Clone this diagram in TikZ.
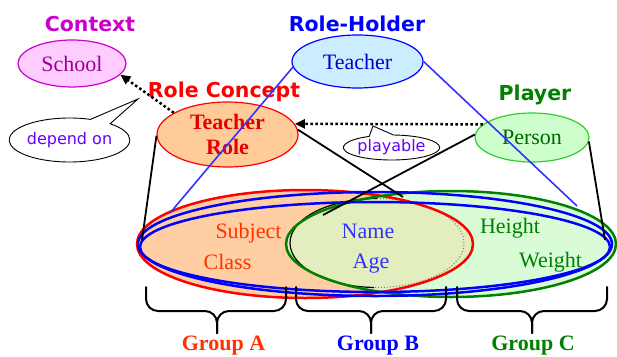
\documentclass[tikz,border=0pt]{standalone}
\usepackage{fontspec}
\setmainfont{Liberation Serif}
\newfontfamily\labfont{DejaVu Sans}
\usetikzlibrary{shapes.geometric,shapes.callouts,arrows.meta}
\definecolor{ctxc}{HTML}{CC00CC}
\definecolor{schoolfill}{HTML}{FFCCFF}
\definecolor{schooltext}{HTML}{990099}
\definecolor{rhc}{HTML}{0000FF}
\definecolor{teacherfill}{HTML}{CCECFF}
\definecolor{teachertext}{HTML}{0000CC}
\definecolor{rcc}{HTML}{FF0000}
\definecolor{trfill}{HTML}{FFCC99}
\definecolor{trtext}{HTML}{E60000}
\definecolor{plc}{HTML}{008000}
\definecolor{personfill}{HTML}{CCFFCC}
\definecolor{personborder}{HTML}{33CC33}
\definecolor{persontext}{HTML}{006600}
\definecolor{calloutc}{HTML}{6600FF}
\definecolor{grpa}{HTML}{FF3300}
\definecolor{grpb}{HTML}{3333FF}
\definecolor{grpc}{HTML}{008000}
\definecolor{bluel}{HTML}{3333FF}
\definecolor{orangefill}{HTML}{FFCFA3}
\definecolor{greenfill}{HTML}{D9FCD6}
\definecolor{mixfill}{HTML}{E2EEBE}
\newcommand\grpbrace[3]{%
  \draw[brc] (#1,-287) -- (#1,-299) arc[start angle=180,end angle=270,radius=12]
    -- ({#2-12},-311) arc[start angle=90,end angle=0,radius=12] -- (#2,-333);
  \draw[brc] (#3,-287) -- (#3,-299) arc[start angle=0,end angle=-90,radius=12]
    -- ({#2+12},-311) arc[start angle=90,end angle=180,radius=12] -- (#2,-333);
}
\begin{document}
\begin{tikzpicture}[x=1pt,y=1pt,
  font=\fontsize{22}{25}\selectfont,
  lab/.style={anchor=base,font=\labfont\bfseries\fontsize{20.5}{24}\selectfont},
  oval/.style={ellipse,inner sep=0,line width=1.2pt},
  txt/.style={anchor=base},
  grp/.style={anchor=base,font=\bfseries\fontsize{22}{25}\selectfont},
  bubble/.style={ellipse callout,draw=black,fill=white,inner sep=0,line width=0.9pt,
    text=calloutc,font=\labfont\fontsize{16}{19}\selectfont},
  dotarrow/.style={line width=2.5pt,dash pattern=on 2.5pt off 2.5pt,
    -{Triangle[length=10pt,width=9pt]}},
  blk/.style={line width=1.8pt,black},
  bln/.style={line width=1.6pt,bluel},
  brc/.style={line width=2pt,black,line cap=round}]
\useasboundingbox (0,0) rectangle (617,-356);

% big group ellipses: fills
\fill[orangefill] (305,-244) ellipse[x radius=168,y radius=54];
\fill[greenfill] (451,-244) ellipse[x radius=165,y radius=53];
\begin{scope}
  \clip (305,-244) ellipse[x radius=168,y radius=54];
  \fill[mixfill] (451,-244) ellipse[x radius=165,y radius=53];
\end{scope}
% inner Name/Age ellipse
\draw[black,line width=1.2pt] (377,-198.5) arc[start angle=90,end angle=268,x radius=87,y radius=44.5];
\draw[gray,dotted,line width=1pt] (377,-198.5) arc[start angle=90,end angle=-92,x radius=87,y radius=44.5];
% outlines
\draw[rcc,line width=2.5pt] (305,-244) ellipse[x radius=168,y radius=54];
\draw[plc,line width=2.5pt] (451,-244) ellipse[x radius=165,y radius=53];
\draw[rhc,line width=2.5pt] (375,-244) ellipse[x radius=237,y radius=52];
\draw[rhc,line width=2.5pt] (375,-247) ellipse[x radius=235,y radius=45];

% labels
\node[lab,text=ctxc] (ctxlab) at (90,-31) {Context};
\node[lab,text=rhc] (rhlab) at (357,-31) {Role-Holder};
\node[lab,text=rcc] (rclab) at (224,-97) {Role Concept};
\node[lab,text=plc] (pllab) at (535,-100) {Player};

% concept nodes
\node[oval,draw=ctxc,fill=schoolfill,text=schooltext,minimum width=108,minimum height=47] (school) at (72,-63.5) {School};
\node[oval,draw=rhc,fill=teacherfill,text=teachertext,minimum width=131,minimum height=53] (teacher) at (357.5,-61.5) {Teacher};
\node[oval,draw=rcc,fill=trfill,text=trtext,minimum width=141,minimum height=65,align=center,font=\bfseries\fontsize{22}{25}\selectfont] (tr) at (227.5,-134.5) {Teacher\\Role};
\node[oval,draw=personborder,fill=personfill,text=persontext,minimum width=114,minimum height=49] (person) at (532,-137.5) {Person};

% callouts
\node[bubble,minimum width=113,minimum height=44,callout absolute pointer={(138,-99)},callout pointer arc=22] (dep) at (69.5,-140) {depend on};
\node[bubble,minimum width=89,minimum height=25,callout absolute pointer={(373,-126)},callout pointer arc=30] (play) at (391.5,-147.5) {playable};

% end points on the group ellipses
\coordinate (lA) at (142,-240);
\coordinate (lB) at (403,-197);
\coordinate (lC) at (323,-215);
\coordinate (lD) at (605,-240);
\coordinate (bA) at (170,-213);
\coordinate (bB) at (577,-206);

% connectors
\draw[bln] (teacher.185) -- (bA);
\draw[bln] (teacher.0) -- (bB);
\draw[blk] (tr.181) -- (lA);
\draw[blk] (tr.4) -- (lB);
\draw[blk] (person.177) -- (lC);
\draw[blk] (person.-4) -- (lD);
\draw[dotarrow] (tr.158) -- (school.-13);
\draw[dotarrow] (person.165) -- (tr.9);

% texts in groups
\node[txt,text=grpa] (subj) at (248.5,-238) {Subject};
\node[txt,text=grpa] (cls) at (227.5,-269) {Class};
\node[txt,text=grpb] (nm) at (368,-238) {Name};
\node[txt,text=grpb] (age) at (371,-268) {Age};
\node[txt,text=grpc] (hgt) at (510,-233) {Height};
\node[txt,text=grpc] (wgt) at (550.5,-267) {Weight};

% braces
\grpbrace{146}{217}{286}
\grpbrace{296}{371}{446}
\grpbrace{457}{532}{607}
\node[grp,text=grpa] (ga) at (223.5,-350) {Group A};
\node[grp,text=rhc] (gb) at (378,-350) {Group B};
\node[grp,text=grpc] (gc) at (533,-350) {Group C};
\end{tikzpicture}
\end{document}
